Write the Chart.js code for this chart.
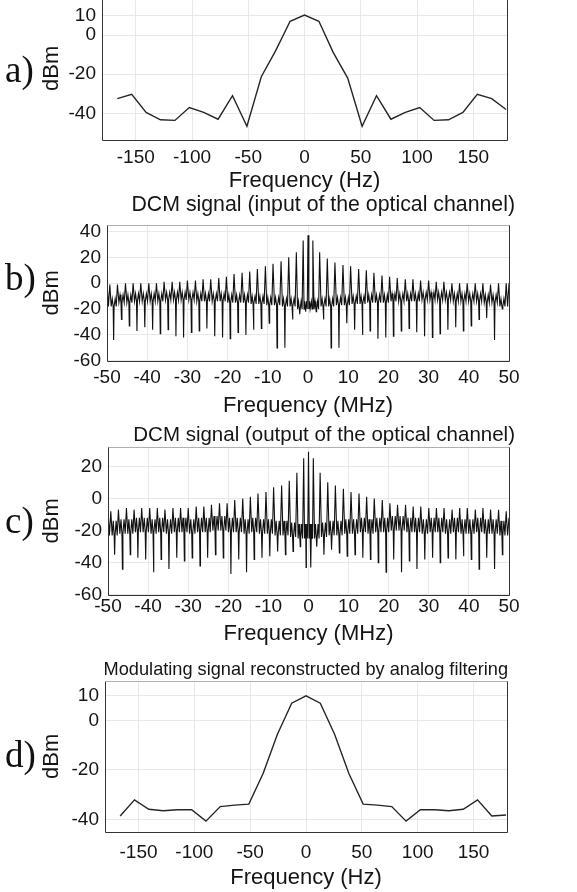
<!DOCTYPE html>
<html>
<head>
<meta charset="utf-8">
<script src="https://cdn.jsdelivr.net/npm/chart.js@4.4.1/dist/chart.umd.min.js"></script>
<style>
  html, body { margin: 0; padding: 0; background: #fff; }
  #page { position: relative; width: 577px; height: 892px; overflow: hidden; background: #fff; }
  #page canvas { position: absolute; left: 0; }
  .tag { position: absolute; left: 5px; font-family: "Liberation Serif", "Times New Roman", serif;
         font-size: 37px; line-height: 37px; color: #111; }
</style>
</head>
<body>
<div id="page">
  <canvas id="chartA"></canvas>
  <canvas id="chartB"></canvas>
  <canvas id="chartC"></canvas>
  <canvas id="chartD"></canvas>
  <div class="tag" style="top:51px">a)</div>
  <div class="tag" style="top:259px">b)</div>
  <div class="tag" style="top:502px">c)</div>
  <div class="tag" style="top:736px">d)</div>
</div>
<script>
// ---- panels a) and d): baseband spectrum, Hz ----
const hzFreq = [-166.4, -153.6, -140.8, -128.0, -115.2, -102.4, -89.6, -76.8, -64.0, -51.2, -38.4, -25.6, -12.8, 0,
  12.8, 25.6, 38.4, 51.2, 64.0, 76.8, 89.6, 102.4, 115.2, 128.0, 140.8, 153.6, 166.4, 179.2];
const aLevel = [-32.5, -30.3, -39.5, -43.3, -43.6, -37, -39.5, -43, -31, -46.6, -21.3, -8, 7, 10.2,
  7, -9, -22, -46.6, -31, -43, -39.5, -37, -43.6, -43.3, -39.5, -30.3, -32.5, -38];
const dLevel = [-38.6, -32.1, -35.9, -36.5, -36.1, -36.1, -40.7, -34.8, -34.2, -33.8, -21.4, -5.5, 7, 10,
  7, -5.5, -21.4, -33.8, -34.2, -34.8, -40.7, -36.1, -36.1, -36.5, -35.9, -32.1, -38.6, -38.2];
const hzTicks = [-150, -100, -50, 0, 50, 100, 150];
const hzLevelTicks = [-40, -20, 0, 10];

// ---- panels b) and c): DCM comb spectrum, MHz ----
const combFreq = [-49.3, -47.4, -45.4, -43.5, -41.6, -39.6, -37.7, -35.8, -33.8, -31.9, -30.0, -28.0, -26.1,
  -24.2, -22.2, -20.3, -18.4, -16.4, -14.5, -12.6, -10.6, -8.7, -6.7, -4.8, -2.9, -1.2, 0,
  1.2, 2.9, 4.8, 6.7, 8.7, 10.6, 12.6, 14.5, 16.4, 18.4, 20.3, 22.2, 24.2, 26.1, 28.0,
  30.0, 31.9, 33.8, 35.8, 37.7, 39.6, 41.6, 43.5, 45.4, 47.4, 49.3];

const bPeak = [-1, -1, 0, 0, 0, 0, 0, 1, 1, 1, 2, 2, 3, 3, 4, 5, 7, 8, 9, 11, 13, 15, 17, 20, 24, 33, 37,
  33, 24, 19, 16, 14, 13, 11, 10, 8, 6, 5, 4, 3, 3, 2, 2, 1, 1, 0, 0, 0, 0, 0, -1, 0, 0];
const bDip = [-44, -28, -33, -37, -34, -36, -39, -36, -41, -42, -38, -37, -35, -41, -42, -43, -38, -40, -36, -35,
  -31, -50, -50, -28, -24, -22,
  -20, -22, -28, -50, -50, -31, -36, -40, -37, -43, -42, -41, -37, -35, -38, -41, -42, -39, -36, -34,
  -37, -33, -28, -27, -44, -20];
const bFloor = [-18, -15, -15, -14, -14, -14, -14, -13, -13, -13, -13, -14, -14, -14, -14, -15, -15, -15, -16, -16,
  -17, -17, -18, -18, -20, -20,
  -20, -20, -18, -18, -17, -17, -16, -16, -15, -15, -15, -14, -14, -14, -14, -13, -13, -13, -13, -14,
  -14, -14, -14, -15, -15, -18];
const bEdge = [0, 0];

const cPeak = [-8, -7, -6, -7, -6, -6, -6, -7, -6, -6, -6, -5, -5, -4, -3, -3, -1, 0, 1, 3, 4, 7, 8, 11, 16, 25, 29,
  25, 16, 10, 8, 6, 4, 3, 1, 0, -1, -3, -4, -4, -5, -5, -6, -6, -6, -7, -6, -6, -7, -6, -7, -7, -8];
const cDip = [-35, -44, -35, -37, -38, -46, -38, -44, -37, -39, -37, -42, -37, -35, -37, -47, -38, -46, -38, -37,
  -36, -33, -35, -33, -30, -43,
  -43, -30, -35, -32, -34, -36, -35, -37, -38, -40, -46, -38, -46, -39, -44, -38, -37, -40, -37, -38,
  -36, -38, -44, -37, -44, -35];
const cFloor = [-23, -22, -22, -21, -21, -22, -21, -22, -21, -21, -22, -21, -21, -20, -20, -21, -21, -22, -21, -22,
  -22, -23, -23, -24, -25, -25,
  -25, -25, -24, -23, -23, -22, -22, -21, -22, -21, -21, -20, -20, -21, -21, -22, -21, -21, -22, -21,
  -22, -22, -21, -22, -22, -23];
const cEdge = [-8, -12];

const mhzTicks = [-50, -40, -30, -20, -10, 0, 10, 20, 30, 40, 50];
const bLevelTicks = [-60, -40, -20, 0, 20, 40];
const cLevelTicks = [-60, -40, -20, 0, 20];

// small rise of the floor between comb lines (dB)
const bBump = 6;
const cBump = 9;

// spike / dip / floor trace through one comb gap after another
function combTrace(peak, dip, floor, bump, edge) {
  const pts = [{ x: -50, y: edge[0] }, { x: (-50 + combFreq[0]) / 2, y: floor[0] }];
  combFreq.forEach((f, k) => {
    pts.push({ x: f, y: peak[k] });
    if (k === combFreq.length - 1) return;
    const g = combFreq[k + 1] - f, fl = floor[k];
    pts.push({ x: f + 0.18 * g, y: fl });
    pts.push({ x: f + 0.32 * g, y: fl + bump });
    pts.push({ x: f + 0.44 * g, y: fl });
    pts.push({ x: f + 0.5 * g, y: dip[k] });
    pts.push({ x: f + 0.56 * g, y: fl });
    pts.push({ x: f + 0.7 * g, y: fl + bump });
    pts.push({ x: f + 0.84 * g, y: fl });
  });
  const last = combFreq[combFreq.length - 1];
  pts.push({ x: (last + 50) / 2, y: floor[floor.length - 1] });
  pts.push({ x: 50, y: edge[1] });
  return pts;
}

const FONT = '"Liberation Sans", Arial, Helvetica, sans-serif';
const INK = '#151515';
const W = 577;

// MATLAB-like axes box: dark left/bottom/right, lighter top
const boxPlugin = {
  id: 'box',
  afterDraw(chart) {
    const { ctx, chartArea: a } = chart;
    const l = Math.round(a.left) + 0.5, r = Math.round(a.right) + 0.5;
    const t = Math.round(a.top) + 0.5, b = Math.round(a.bottom) + 0.5;
    ctx.save();
    ctx.lineWidth = 1;
    ctx.strokeStyle = '#b0b0b0';
    ctx.beginPath(); ctx.moveTo(l, t); ctx.lineTo(r, t); ctx.stroke();
    ctx.strokeStyle = '#333';
    ctx.beginPath(); ctx.moveTo(l, t); ctx.lineTo(l, b); ctx.lineTo(r, b); ctx.lineTo(r, t); ctx.stroke();
    ctx.restore();
  }
};

function panel(id, o) {
  const el = document.getElementById(id);
  const tickLh = 19 * 1.2, axLh = 22 * 1.2;
  const xH = o.xTitleY - o.area.bottom + axLh / 2;
  const h = Math.ceil(o.area.bottom - o.top + xH + 2);
  el.width = W; el.height = h; el.style.top = o.top + 'px';
  let title = { display: false };
  if (o.title) {
    const lh = o.titleSize * 1.2;
    const pt = o.titleY - o.top - lh / 2;
    title = { display: true, text: o.title, align: 'end', color: INK,
      font: { family: FONT, size: o.titleSize, weight: 'normal' },
      padding: { top: pt, bottom: o.area.top - o.top - pt - lh } };
  }
  new Chart(el, {
    type: 'line',
    data: { datasets: [{ data: o.points, borderColor: o.color, borderWidth: o.lw, pointRadius: 0, tension: 0, fill: false }] },
    options: {
      responsive: false, animation: false, devicePixelRatio: 1,
      layout: { padding: { left: 0, right: W - o.titleRight, top: o.title ? 0 : o.area.top - o.top, bottom: 0 } },
      plugins: { legend: { display: false }, tooltip: { enabled: false }, title },
      scales: {
        x: {
          type: 'linear', min: o.xRange[0], max: o.xRange[1],
          afterBuildTicks: s => { s.ticks = o.xTicks.map(v => ({ value: v })); },
          afterFit: s => { s.height = xH; s.paddingLeft = 0; s.paddingRight = 0; },
          grid: { color: '#e8e8e8', drawTicks: false },
          border: { display: false },
          ticks: { color: INK, font: { family: FONT, size: 19 }, padding: o.tickY - o.area.bottom - tickLh / 2, maxRotation: 0, autoSkip: false },
          title: { display: true, text: o.xTitle, color: INK, font: { family: FONT, size: 22 }, padding: { top: 0, bottom: 0 } }
        },
        y: {
          type: 'linear', min: o.yRange[0], max: o.yRange[1],
          afterBuildTicks: s => { s.ticks = o.yTicks.map(v => ({ value: v })); },
          afterFit: s => { s.width = o.area.left; s.paddingTop = 0; s.paddingBottom = 0; },
          grid: { color: '#e8e8e8', drawTicks: false },
          border: { display: false },
          ticks: { color: INK, font: { family: FONT, size: 19 }, padding: 6, autoSkip: false },
          title: { display: true, text: 'dBm', color: INK, font: { family: FONT, size: 22 }, padding: { top: 52 - axLh / 2, bottom: 0 } }
        }
      }
    },
    plugins: [boxPlugin, {
      // keep the plot frame where it is while the title box ends a little further right
      id: 'areaRight',
      afterLayout(chart) { chart.chartArea.right = o.area.right; chart.chartArea.width = o.area.right - chart.chartArea.left;
        chart.scales.x.right = o.area.right; chart.scales.x.width = o.area.right - chart.scales.x.left; chart.scales.x.configure(); }
    }]
  });
}

const hzPoints = lv => hzFreq.map((f, i) => ({ x: f, y: lv[i] }));

panel('chartA', {
  top: -30, area: { left: 102, right: 507, top: -3, bottom: 137 }, titleRight: 507, tickY: 155, xTitleY: 178,
  xRange: [-180, 180], yRange: [-53.5, 19.4], xTicks: hzTicks, yTicks: hzLevelTicks,
  xTitle: 'Frequency (Hz)', points: hzPoints(aLevel), lw: 1.4, color: '#262626'
});
panel('chartB', {
  top: 188, title: 'DCM signal (input of the optical channel)', titleSize: 21.3, titleY: 205, titleRight: 515,
  area: { left: 107, right: 509, top: 225, bottom: 358 }, tickY: 375, xTitleY: 403,
  xRange: [-50, 50], yRange: [-60, 45], xTicks: mhzTicks, yTicks: bLevelTicks,
  xTitle: 'Frequency (MHz)', points: combTrace(bPeak, bDip, bFloor, bBump, bEdge), lw: 1.1, color: '#111'
});
panel('chartC', {
  top: 416, title: 'DCM signal (output of the optical channel)', titleSize: 20.5, titleY: 435, titleRight: 515,
  area: { left: 108, right: 509, top: 447, bottom: 592 }, tickY: 604, xTitleY: 631,
  xRange: [-50, 50], yRange: [-60, 32], xTicks: mhzTicks, yTicks: cLevelTicks,
  xTitle: 'Frequency (MHz)', points: combTrace(cPeak, cDip, cFloor, cBump, cEdge), lw: 1.1, color: '#111'
});
panel('chartD', {
  top: 652, title: 'Modulating signal reconstructed by analog filtering', titleSize: 18.2, titleY: 670, titleRight: 508,
  area: { left: 105, right: 507, top: 681, bottom: 829 }, tickY: 850, xTitleY: 875,
  xRange: [-180, 180], yRange: [-45, 16], xTicks: hzTicks, yTicks: hzLevelTicks,
  xTitle: 'Frequency (Hz)', points: hzPoints(dLevel), lw: 1.4, color: '#262626'
});
</script>
</body>
</html>
